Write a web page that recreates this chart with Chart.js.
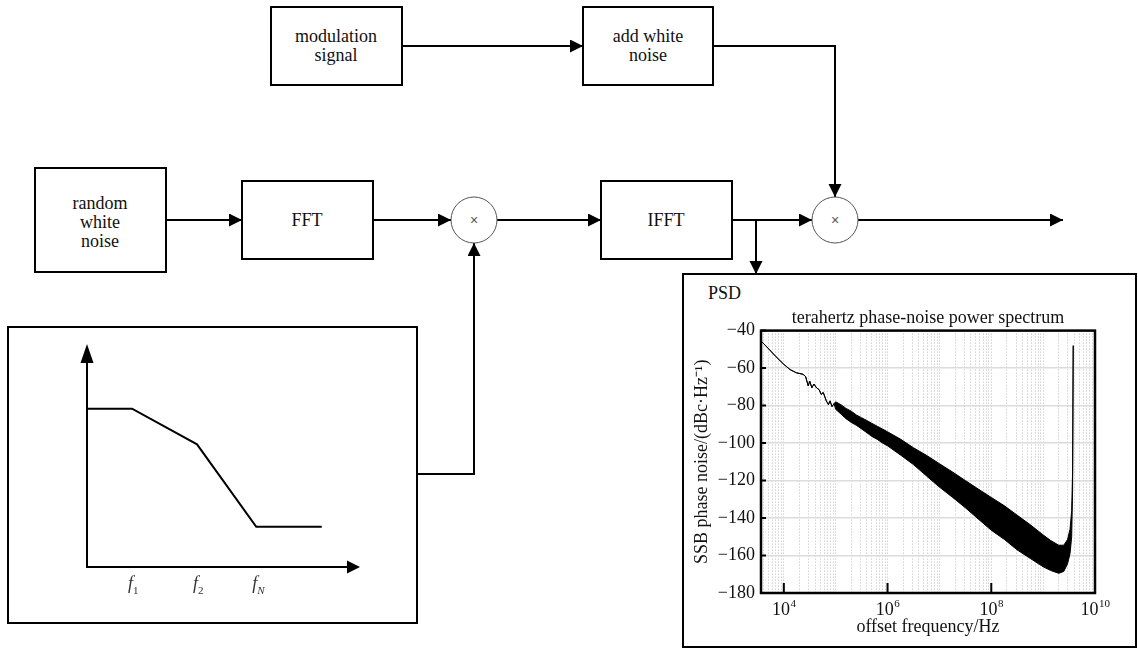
<!DOCTYPE html>
<html lang="en">
<head>
<meta charset="UTF-8">
<title>Terahertz phase-noise simulation</title>
<script src="https://cdn.jsdelivr.net/npm/chart.js@4.4.1/dist/chart.umd.min.js"></script>
<style>
    body { margin: 0; background: #fff; }
    #stage { position: relative; width: 1138px; height: 649px; overflow: hidden; background: #fff; }
    #stage svg { position: absolute; left: 0; top: 0; }
    #stage canvas { position: absolute; }
    .lbl { font-family: 'Liberation Serif', 'Times New Roman', serif; font-size: 18px; fill: #111; }
    .mul { font-family: 'Liberation Sans', Arial, sans-serif; font-size: 14px; fill: #555; }
</style>
</head>
<body>
<div id="stage">
    <svg width="1138" height="649">
        <defs>
            <marker id="ah" markerUnits="userSpaceOnUse" markerWidth="14" markerHeight="14" refX="13" refY="6.5" orient="auto">
                <path d="M0,0 L13,6.5 L0,13 z" fill="#000"/>
            </marker>
        </defs>
        <g fill="none" stroke="#000" stroke-width="2">
            <rect x="271" y="7" width="131" height="78"/>
            <rect x="583" y="7" width="130" height="78"/>
            <rect x="35" y="168" width="131" height="104"/>
            <rect x="242" y="181" width="131" height="78"/>
            <rect x="601" y="181" width="131" height="78"/>
            <rect x="8" y="327" width="409" height="296"/>
            <rect x="683" y="274" width="453" height="373"/>
        </g>
        <g fill="none" stroke="#000" stroke-width="2">
            <polyline points="402,46 583,46" marker-end="url(#ah)"/>
            <polyline points="713,46 835,46 835,197" marker-end="url(#ah)"/>
            <polyline points="166,220 242,220" marker-end="url(#ah)"/>
            <polyline points="373,220 451,220" marker-end="url(#ah)"/>
            <polyline points="497,220 601,220" marker-end="url(#ah)"/>
            <polyline points="732,220 812,220" marker-end="url(#ah)"/>
            <polyline points="858,220 1063,220" marker-end="url(#ah)"/>
            <polyline points="756,220 756,274" marker-end="url(#ah)"/>
            <polyline points="417,474 474,474 474,243" marker-end="url(#ah)"/>
        </g>
        <g fill="#fff" stroke="#555" stroke-width="1">
            <circle cx="474" cy="220" r="23"/>
            <circle cx="835" cy="220" r="23"/>
        </g>
        <g text-anchor="middle" dominant-baseline="central">
            <text class="mul" x="474" y="220">×</text>
            <text class="mul" x="835" y="220">×</text>
            <text class="lbl" x="336" y="36">modulation</text>
            <text class="lbl" x="336" y="55">signal</text>
            <text class="lbl" x="648" y="36">add white</text>
            <text class="lbl" x="648" y="55">noise</text>
            <text class="lbl" x="100" y="203">random</text>
            <text class="lbl" x="100" y="222">white</text>
            <text class="lbl" x="100" y="241">noise</text>
            <text class="lbl" x="307" y="220">FFT</text>
            <text class="lbl" x="666" y="220">IFFT</text>
        </g>
        <text class="lbl" x="708" y="299">PSD</text>
    </svg>
    <canvas id="inset" width="405" height="292" style="left:10px;top:329px"></canvas>
    <canvas id="psd" width="446" height="350" style="left:686px;top:296px"></canvas>
</div>
<script>
    const serif = "'Liberation Serif', 'Times New Roman', serif";

    // PSD curve: thin trace below ~1e5 Hz, then the noisy band (upper / lower edge)
    const freqHz = [3.63e3, 5.0e3, 7.1e3, 1.0e4, 1.32e4, 1.74e4, 2.34e4, 2.63e4, 2.95e4, 3.16e4,
        3.47e4, 3.8e4, 4.27e4, 4.79e4, 5.25e4, 5.75e4, 6.6e4, 7.24e4, 7.76e4, 8.5e4, 9.3e4,
        1.0e5, 1.26e5, 1.58e5, 2.0e5, 2.5e5, 3.16e5, 4.0e5, 5.0e5, 6.3e5, 8.0e5,
        1.0e6, 1.8e6, 3.16e6, 5.6e6, 1.0e7, 1.8e7, 3.16e7, 5.6e7,
        1.0e8, 1.8e8, 3.16e8, 5.6e8, 1.0e9, 1.4e9, 2.0e9, 2.5e9, 2.95e9, 3.3e9, 3.55e9, 3.7e9, 3.8e9];
    const noiseUpper = [-45.5, -49.5, -54, -58, -60.8, -62.5, -63.3, -64.5, -69.5, -67,
        -70.5, -68.5, -70.5, -71.5, -74, -73, -77.5, -79.5, -77.5, -80.5, -79,
        -78, -79.5, -81.5, -83, -85, -86.5, -88, -89.5, -91, -92.5,
        -94, -98, -102.5, -106.5, -111, -115.5, -120, -124.5,
        -129, -133.5, -138.5, -143.5, -149, -152, -154.5, -154.5, -151.5, -146, -136, -115, -48];
    const noiseLower = [-45.5, -49.5, -54, -58, -60.8, -62.5, -63.3, -64.5, -69.5, -67,
        -70.5, -68.5, -70.5, -71.5, -74, -73, -77.5, -79.5, -77.5, -80.5, -79,
        -82, -84.5, -87, -89, -90.5, -92.5, -94.5, -96.5, -98, -100,
        -101.5, -106.5, -111.5, -117.5, -123.5, -129, -134.5, -140.5,
        -146.5, -151.5, -157, -161.5, -166, -168, -169.5, -168.5, -164.5, -159, -150, -125, -48];

    const xTickPowers = { 1e4: '4', 1e6: '6', 1e8: '8', 1e10: '10' };
    const xMarkTicks = [1e4, 1e6, 1e8];
    const yTicks = [-180, -160, -140, -120, -100, -80, -60, -40];

    // schematic spectrum shape in the lower-left box (arbitrary units)
    const insetFreq = [0, 16.5, 40.3, 62, 86];
    const insetLevel = [71, 71, 55, 18, 18];
    const insetTickFreq = [16.5, 40.3, 62];
    const insetTickSub = ['1', '2', 'N'];

    const psdFrame = {
        id: 'psdFrame',
        afterDatasetsDraw(chart) {
            const { ctx, chartArea: a, scales: { x, y } } = chart;
            ctx.save();
            ctx.strokeStyle = '#000';
            ctx.lineWidth = 2;
            ctx.beginPath();
            xMarkTicks.forEach(v => {
                const px = x.getPixelForValue(v);
                ctx.moveTo(px, a.bottom);
                ctx.lineTo(px, a.bottom - 10);
            });
            yTicks.forEach(v => {
                const py = y.getPixelForValue(v);
                ctx.moveTo(a.left, py);
                ctx.lineTo(a.left + 5, py);
            });
            ctx.stroke();
            ctx.lineWidth = 2.5;
            ctx.strokeRect(a.left, a.top, a.right - a.left, a.bottom - a.top);

            // x tick labels as 10 with a raised exponent
            ctx.fillStyle = '#111';
            ctx.textBaseline = 'alphabetic';
            ctx.textAlign = 'left';
            Object.keys(xTickPowers).forEach(k => {
                const px = x.getPixelForValue(Number(k));
                const sup = xTickPowers[k];
                ctx.font = '18px ' + serif;
                const wBase = ctx.measureText('10').width;
                ctx.font = '11px ' + serif;
                const wSup = ctx.measureText(sup).width;
                const x0 = px - (wBase + wSup) / 2;
                ctx.font = '18px ' + serif;
                ctx.fillText('10', x0, a.bottom + 22);
                ctx.font = '11px ' + serif;
                ctx.fillText(sup, x0 + wBase + 0.5, a.bottom + 14);
            });
            ctx.restore();
        }
    };

    new Chart(document.getElementById('psd'), {
        type: 'line',
        data: {
            datasets: [{
                data: freqHz.map((f, i) => ({ x: f, y: noiseUpper[i] })),
                borderColor: '#000', borderWidth: 1, backgroundColor: '#000',
                fill: '+1', pointRadius: 0, tension: 0
            }, {
                data: freqHz.map((f, i) => ({ x: f, y: noiseLower[i] })),
                borderColor: '#000', borderWidth: 1, fill: false, pointRadius: 0, tension: 0
            }]
        },
        options: {
            responsive: false, animation: false, events: [],
            layout: { padding: { left: 0, right: 37, top: 0, bottom: 0 } },
            plugins: {
                legend: { display: false },
                tooltip: { enabled: false },
                title: {
                    display: true, fullSize: false,
                    text: 'terahertz phase-noise power spectrum',
                    color: '#111', font: { family: serif, size: 18, weight: 'normal' },
                    padding: { top: 11, bottom: 2 }
                }
            },
            scales: {
                x: {
                    type: 'logarithmic', min: 3630, max: 1e10,
                    afterBuildTicks(scale) {
                        const t = [];
                        for (let e = 3; e < 10; e++) {
                            for (let m = 1; m < 10; m++) {
                                const v = m * Math.pow(10, e);
                                if (v >= scale.min && v <= scale.max) t.push({ value: v });
                            }
                        }
                        t.push({ value: 1e10 });
                        scale.ticks = t;
                    },
                    afterFit(scale) { scale.height = 53; },
                    grid: { color: '#bdbdbd', lineWidth: 1, drawTicks: false },
                    border: { display: false, dash: [1, 2] },
                    ticks: { display: false, autoSkip: false, maxRotation: 0 },
                    title: {
                        display: true, text: 'offset frequency/Hz', color: '#111',
                        font: { family: serif, size: 18 }, padding: { top: 0, bottom: 8 }
                    }
                },
                y: {
                    min: -180, max: -40,
                    afterFit(scale) { scale.width = 75; },
                    grid: { color: '#dcdcdc', lineWidth: 1.5, drawTicks: false },
                    border: { display: false },
                    ticks: {
                        stepSize: 20, padding: 6, color: '#111',
                        font: { family: serif, size: 18 },
                        callback: v => '−' + Math.abs(v)
                    },
                    title: {
                        display: true, text: 'SSB phase noise/(dBc·Hz⁻¹)', color: '#111',
                        font: { family: serif, size: 18 }, padding: { top: 5, bottom: 0 }
                    }
                }
            }
        },
        plugins: [psdFrame]
    });

    const insetAxes = {
        id: 'insetAxes',
        afterDraw(chart) {
            const { ctx, chartArea: a, scales: { x } } = chart;
            ctx.save();
            ctx.strokeStyle = '#000';
            ctx.fillStyle = '#000';
            ctx.lineWidth = 2;
            ctx.beginPath();
            ctx.moveTo(a.left, a.top + 15);
            ctx.lineTo(a.left, a.bottom);
            ctx.lineTo(a.right - 10, a.bottom);
            ctx.stroke();
            ctx.beginPath();
            ctx.moveTo(a.left, a.top);
            ctx.lineTo(a.left - 6.5, a.top + 19);
            ctx.lineTo(a.left + 6.5, a.top + 19);
            ctx.fill();
            ctx.beginPath();
            ctx.moveTo(a.right, a.bottom);
            ctx.lineTo(a.right - 13, a.bottom - 6.5);
            ctx.lineTo(a.right - 13, a.bottom + 6.5);
            ctx.fill();
            ctx.fillStyle = '#333';
            ctx.textBaseline = 'alphabetic';
            insetTickFreq.forEach((v, i) => {
                const px = x.getPixelForValue(v);
                ctx.font = 'italic 18px ' + serif;
                ctx.textAlign = 'right';
                ctx.fillText('f', px + 1, a.bottom + 22);
                ctx.font = (insetTickSub[i] === 'N' ? 'italic ' : '') + '11px ' + serif;
                ctx.textAlign = 'left';
                ctx.fillText(insetTickSub[i], px + 1, a.bottom + 27);
            });
            ctx.restore();
        }
    };

    new Chart(document.getElementById('inset'), {
        type: 'line',
        data: {
            datasets: [{
                data: insetFreq.map((f, i) => ({ x: f, y: insetLevel[i] })),
                borderColor: '#000', borderWidth: 2, pointRadius: 0, fill: false, tension: 0,
                clip: false
            }]
        },
        options: {
            responsive: false, animation: false, events: [],
            layout: { padding: { left: 77, right: 55, top: 15, bottom: 54 } },
            plugins: { legend: { display: false }, tooltip: { enabled: false } },
            scales: {
                x: { type: 'linear', min: 0, max: 100, display: false },
                y: { min: 0, max: 100, display: false }
            }
        },
        plugins: [insetAxes]
    });
</script>
</body>
</html>
